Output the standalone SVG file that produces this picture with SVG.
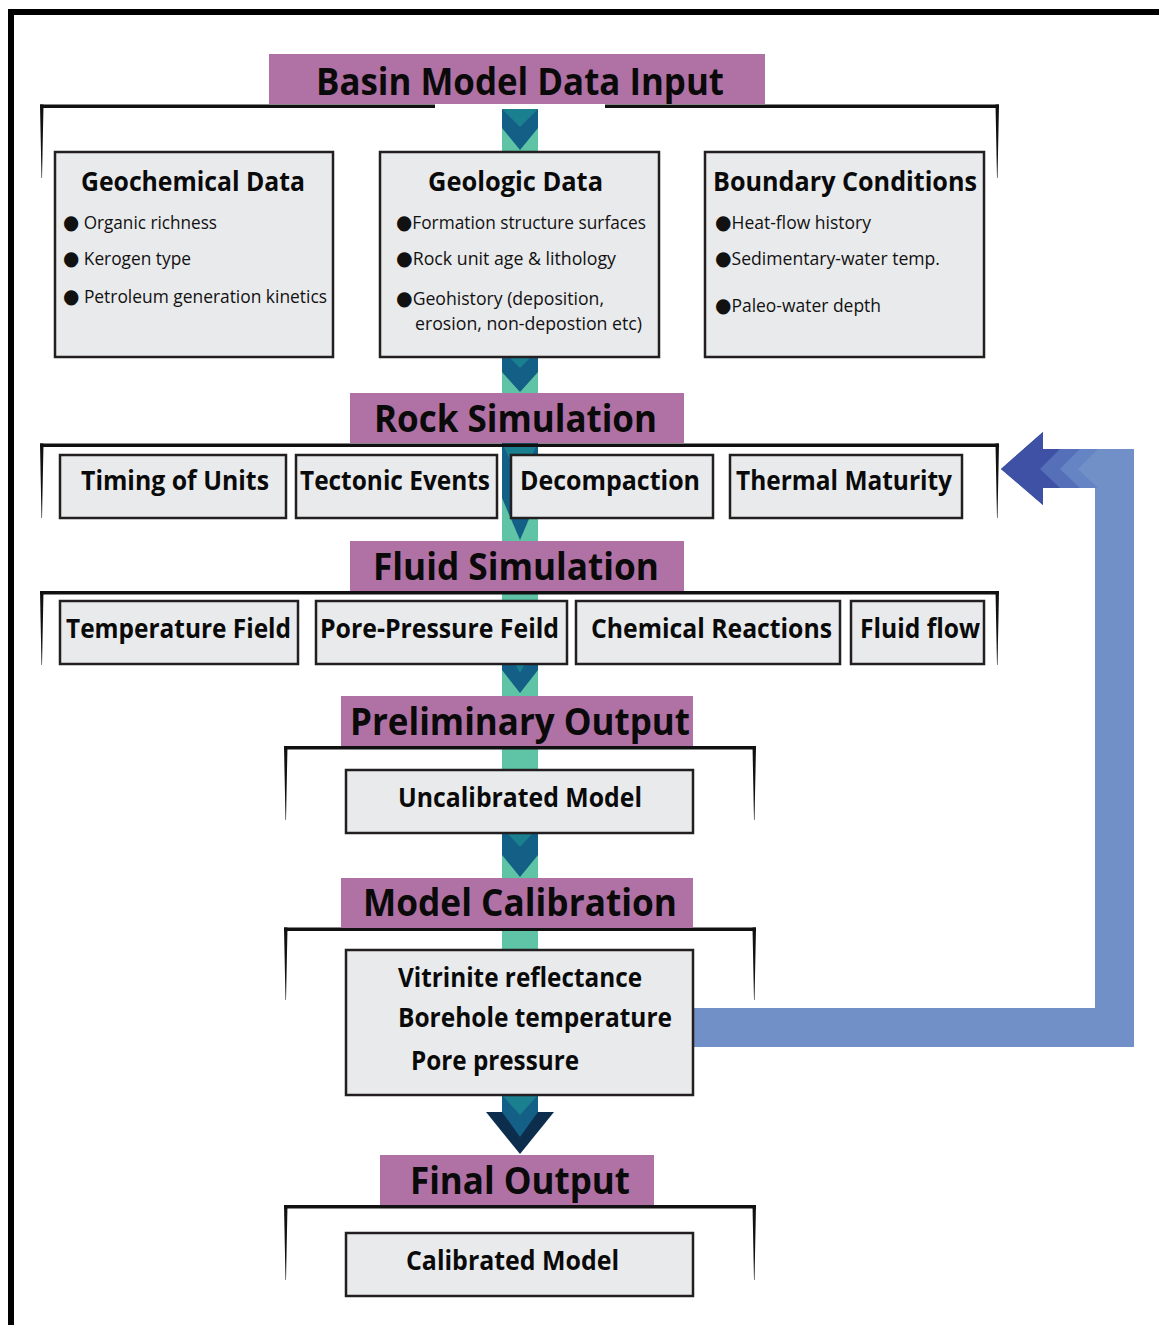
<svg xmlns="http://www.w3.org/2000/svg" width="1159" height="1325" viewBox="0 0 1159 1325">
  <style>
    .bar { fill: #B071A4; }
    .box { fill: #E9EAEC; stroke: #231F20; stroke-width: 2.5; }
    .ink { fill: #111111; }
    .stage { font-family: "Open Sans", "Liberation Sans", sans-serif; font-weight: 700; font-size: 37px; fill: #0A0A0A; }
    .head { font-family: "Open Sans", "Liberation Sans", sans-serif; font-weight: 700; font-size: 26px; fill: #0A0A0A; }
    .lbl { font-family: "Open Sans", "Liberation Sans", sans-serif; font-weight: 700; font-size: 26px; fill: #0A0A0A; }
    .item { font-family: "Open Sans", "Liberation Sans", sans-serif; font-weight: 400; font-size: 18.5px; fill: #111111; }
    .dot { font-family: "DejaVu Sans", sans-serif; font-size: 20px; }
    .spine { fill: #5EC4A5; }
    .chev { fill: #135F86; }
    .tip { fill: #1A7F8E; }
    .navy { fill: #0C2D4C; }
    .loop { fill: #7190C8; }
  </style>

  <!-- outer frame -->
  <path d="M11 1325 V12 H1159" fill="none" stroke="#000" stroke-width="6"/>

  <g id="connectors">
    <!-- central flow spine -->
    <rect class="spine" x="502" y="109" width="36" height="1003"/>
    <!-- chevrons along the spine -->
    <polygon class="chev" points="502,109 538,109 538,128 520,150 502,128"/>
    <polygon class="tip" points="502,109 538,109 520,127"/>
    <polygon class="chev" points="502,357 538,357 538,372 520,392 502,372"/>
    <polygon class="tip" points="509,357 531,357 520,368"/>
    <polygon class="chev" points="502,443 538,443 538,498 520,540 502,498"/>
    <polygon class="tip" points="502,443 538,443 520,480"/>
    <polygon class="chev" points="502,664 538,664 538,670 520,693 502,670"/>
    <polygon class="tip" points="515,664 525,664 520,673"/>
    <polygon class="chev" points="502,833 538,833 538,855 520,877 502,855"/>
    <polygon class="tip" points="507,833 533,833 520,847"/>
    <!-- final arrow -->
    <polygon class="navy" points="486,1112 554,1112 520,1154"/>
    <polygon class="chev" points="502,1095 538,1095 538,1112 520,1137 502,1112"/>
    <polygon class="tip" points="502,1095 538,1095 520,1115"/>

    <!-- calibration feedback loop -->
    <polygon class="loop" points="693,1008 1095,1008 1095,488 1043,488 1043,449 1134,449 1134,1047 693,1047"/>
    <polygon fill="#6584C3" points="1001,469 1043,432 1043,449 1098,449 1078,469 1098,488 1043,488 1043,505"/>
    <polygon fill="#5570B8" points="1001,469 1043,432 1043,449 1080,449 1060,469 1080,488 1043,488 1043,505"/>
    <polygon fill="#3F51A5" points="1001,469 1043,432 1043,449 1060,449 1040,469 1060,488 1043,488 1043,505"/>
  </g>

  <!-- stage: data input -->
  <g id="stage-input">
    <rect class="ink" x="40" y="104.5" width="395" height="3.5"/>
    <rect class="ink" x="605" y="104.5" width="394" height="3.5"/>
    <polygon class="ink" points="40,104.5 43.5,104.5 42,178 41.5,178"/>
    <polygon class="ink" points="995.5,104.5 999,104.5 997.5,178 997,178"/>
    <rect class="bar" x="269" y="54" width="496" height="50"/>
    <text class="stage" x="316" y="95" textLength="408" lengthAdjust="spacingAndGlyphs">Basin Model Data Input</text>
  </g>

  <g id="geochemical-data">
    <rect class="box" x="55" y="152" width="278" height="205"/>
    <text class="head" x="81" y="191" textLength="224" lengthAdjust="spacingAndGlyphs">Geochemical Data</text>
    <text class="item" x="63" y="229" textLength="154" lengthAdjust="spacingAndGlyphs"><tspan class="dot">●</tspan> Organic richness</text>
    <text class="item" x="63" y="265" textLength="128" lengthAdjust="spacingAndGlyphs"><tspan class="dot">●</tspan> Kerogen type</text>
    <text class="item" x="63" y="303" textLength="264" lengthAdjust="spacingAndGlyphs"><tspan class="dot">●</tspan> Petroleum generation kinetics</text>
  </g>

  <g id="geologic-data">
    <rect class="box" x="380" y="152" width="279" height="205"/>
    <text class="head" x="428" y="191" textLength="175" lengthAdjust="spacingAndGlyphs">Geologic Data</text>
    <text class="item" x="396" y="229" textLength="250" lengthAdjust="spacingAndGlyphs"><tspan class="dot">●</tspan>Formation structure surfaces</text>
    <text class="item" x="396" y="265" textLength="220" lengthAdjust="spacingAndGlyphs"><tspan class="dot">●</tspan>Rock unit age &amp; lithology</text>
    <text class="item" x="396" y="305" textLength="208" lengthAdjust="spacingAndGlyphs"><tspan class="dot">●</tspan>Geohistory (deposition,</text>
    <text class="item" x="415" y="330" textLength="227" lengthAdjust="spacingAndGlyphs">erosion, non-depostion etc)</text>
  </g>

  <g id="boundary-conditions">
    <rect class="box" x="705" y="152" width="279" height="205"/>
    <text class="head" x="713" y="191" textLength="264" lengthAdjust="spacingAndGlyphs">Boundary Conditions</text>
    <text class="item" x="715" y="229" textLength="156" lengthAdjust="spacingAndGlyphs"><tspan class="dot">●</tspan>Heat-flow history</text>
    <text class="item" x="715" y="265" textLength="225" lengthAdjust="spacingAndGlyphs"><tspan class="dot">●</tspan>Sedimentary-water temp.</text>
    <text class="item" x="715" y="312" textLength="166" lengthAdjust="spacingAndGlyphs"><tspan class="dot">●</tspan>Paleo-water depth</text>
  </g>

  <!-- stage: rock simulation -->
  <g id="stage-rock">
    <rect class="ink" x="40" y="443.5" width="959" height="3.5"/>
    <polygon class="ink" points="40,443.5 43.5,443.5 42,518 41.5,518"/>
    <polygon class="ink" points="995.5,443.5 999,443.5 997.5,518 997,518"/>
    <rect class="bar" x="350" y="393" width="334" height="50"/>
    <text class="stage" x="374" y="432" textLength="283" lengthAdjust="spacingAndGlyphs">Rock Simulation</text>
  </g>
  <g id="timing-of-units">
    <rect class="box" x="60" y="455" width="226" height="63"/>
    <text class="lbl" x="81" y="490" textLength="188" lengthAdjust="spacingAndGlyphs">Timing of Units</text>
  </g>
  <g id="tectonic-events">
    <rect class="box" x="296" y="455" width="201" height="63"/>
    <text class="lbl" x="300" y="490" textLength="190" lengthAdjust="spacingAndGlyphs">Tectonic Events</text>
  </g>
  <g id="decompaction">
    <rect class="box" x="511" y="455" width="202" height="63"/>
    <text class="lbl" x="520" y="490" textLength="180" lengthAdjust="spacingAndGlyphs">Decompaction</text>
  </g>
  <g id="thermal-maturity">
    <rect class="box" x="730" y="455" width="232" height="63"/>
    <text class="lbl" x="736" y="490" textLength="216" lengthAdjust="spacingAndGlyphs">Thermal Maturity</text>
  </g>

  <!-- stage: fluid simulation -->
  <g id="stage-fluid">
    <rect class="ink" x="40" y="591" width="959" height="3.5"/>
    <polygon class="ink" points="40,591 43.5,591 42,665 41.5,665"/>
    <polygon class="ink" points="995.5,591 999,591 997.5,665 997,665"/>
    <rect class="bar" x="350" y="541" width="334" height="50"/>
    <text class="stage" x="373" y="580" textLength="286" lengthAdjust="spacingAndGlyphs">Fluid Simulation</text>
  </g>
  <g id="temperature-field">
    <rect class="box" x="60" y="601" width="238" height="63"/>
    <text class="lbl" x="66" y="638" textLength="225" lengthAdjust="spacingAndGlyphs">Temperature Field</text>
  </g>
  <g id="pore-pressure-field">
    <rect class="box" x="316" y="601" width="251" height="63"/>
    <text class="lbl" x="320" y="638" textLength="239" lengthAdjust="spacingAndGlyphs">Pore-Pressure Feild</text>
  </g>
  <g id="chemical-reactions">
    <rect class="box" x="576" y="601" width="264" height="63"/>
    <text class="lbl" x="591" y="638" textLength="241" lengthAdjust="spacingAndGlyphs">Chemical Reactions</text>
  </g>
  <g id="fluid-flow">
    <rect class="box" x="851" y="601" width="133" height="63"/>
    <text class="lbl" x="860" y="638" textLength="120" lengthAdjust="spacingAndGlyphs">Fluid flow</text>
  </g>

  <!-- stage: preliminary output -->
  <g id="stage-preliminary">
    <rect class="ink" x="284" y="746" width="472" height="3.5"/>
    <polygon class="ink" points="284,746 287.5,746 286,820 285.5,820"/>
    <polygon class="ink" points="752.5,746 756,746 754.5,820 754,820"/>
    <rect class="bar" x="341" y="696" width="352" height="50"/>
    <text class="stage" x="350" y="735" textLength="340" lengthAdjust="spacingAndGlyphs">Preliminary Output</text>
  </g>
  <g id="uncalibrated-model">
    <rect class="box" x="346" y="770" width="347" height="63"/>
    <text class="lbl" x="398" y="807" textLength="244" lengthAdjust="spacingAndGlyphs">Uncalibrated Model</text>
  </g>

  <!-- stage: model calibration -->
  <g id="stage-calibration">
    <rect class="ink" x="284" y="927.5" width="472" height="3.5"/>
    <polygon class="ink" points="284,927.5 287.5,927.5 286,1000 285.5,1000"/>
    <polygon class="ink" points="752.5,927.5 756,927.5 754.5,1000 754,1000"/>
    <rect class="bar" x="341" y="878" width="352" height="50"/>
    <text class="stage" x="363" y="916" textLength="314" lengthAdjust="spacingAndGlyphs">Model Calibration</text>
  </g>
  <g id="calibration-data">
    <rect class="box" x="346" y="950" width="347" height="145"/>
    <text class="lbl" x="398" y="987" textLength="244" lengthAdjust="spacingAndGlyphs">Vitrinite reflectance</text>
    <text class="lbl" x="398" y="1027" textLength="274" lengthAdjust="spacingAndGlyphs">Borehole temperature</text>
    <text class="lbl" x="411" y="1070" textLength="168" lengthAdjust="spacingAndGlyphs">Pore pressure</text>
  </g>

  <!-- stage: final output -->
  <g id="stage-final">
    <rect class="ink" x="284" y="1205" width="472" height="3.5"/>
    <polygon class="ink" points="284,1205 287.5,1205 286,1280 285.5,1280"/>
    <polygon class="ink" points="752.5,1205 756,1205 754.5,1280 754,1280"/>
    <rect class="bar" x="380" y="1155" width="274" height="50"/>
    <text class="stage" x="410" y="1194" textLength="220" lengthAdjust="spacingAndGlyphs">Final Output</text>
  </g>
  <g id="calibrated-model">
    <rect class="box" x="346" y="1233" width="347" height="63"/>
    <text class="lbl" x="406" y="1270" textLength="213" lengthAdjust="spacingAndGlyphs">Calibrated Model</text>
  </g>
</svg>
